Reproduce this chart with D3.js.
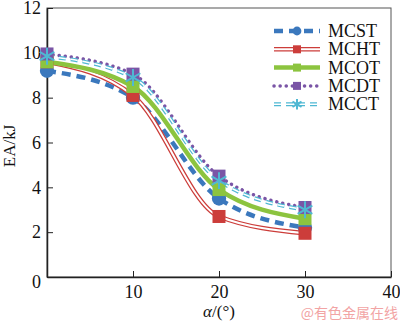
<!DOCTYPE html>
<html>
<head>
<meta charset="utf-8">
<title>EA vs alpha</title>
<style>
  body { margin: 0; background: #fff; }
  text { font-family: "Liberation Serif", "DejaVu Serif", serif; }
</style>
</head>
<body>
<script src="https://d3js.org/d3.v7.min.js"></script>
<script>

var width = 400,
    height = 323,
    margin = {top: 8, right: 9, bottom: 46, left: 47};

var angles = [0, 10, 20, 30];
var names = ['MCST', 'MCHT', 'MCOT', 'MCDT', 'MCCT'];
var mcst = [9.2, 8.0, 3.5, 2.2];
var mcht = [9.6, 8.1, 2.7, 1.95];
var mcot = [9.6, 8.5, 3.9, 2.6];
var mcdt = [9.95, 9.05, 4.5, 3.1];
var mcct = [9.85, 8.9, 4.3, 3.0];
var xTicks = [10, 20, 30, 40];
var yTicks = [0, 2, 4, 6, 8, 10, 12];

var series = [
    {name: names[0], values: mcst, color: '#3b78bd', dash: '9,6', w: 4.5, marker: 'circle'},
    {name: names[1], values: mcht, color: '#cc3d3a', dash: null, w: 4.5, inner: true, marker: 'square'},
    {name: names[2], values: mcot, color: '#8cc43f', dash: null, w: 4.5, marker: 'square'},
    {name: names[3], values: mcdt, color: '#7a55a6', dash: '0.1,6', w: 3.5, cap: 'round', marker: 'square'},
    {name: names[4], values: mcct, color: '#4fb8d3', dash: '7,5', w: 4, inner: true, marker: 'star'}
];

var svg = d3.select('body').append('svg')
    .attr('width', width)
    .attr('height', height);

var x = d3.scaleLinear().domain([0, 40]).range([margin.left, width - margin.right]);
var y = d3.scaleLinear().domain([0, 12]).range([height - margin.bottom, margin.top]);

// frame (top/right)
svg.append('rect')
    .attr('x', x(0)).attr('y', y(12))
    .attr('width', x(40) - x(0)).attr('height', y(0) - y(12))
    .attr('fill', 'none').attr('stroke', '#555').attr('stroke-width', 1);

var xAxis = svg.append('g')
    .attr('transform', 'translate(0,' + y(0) + ')')
    .call(d3.axisBottom(x).tickValues(xTicks).tickSizeInner(-6).tickSizeOuter(0).tickPadding(8));
var yAxis = svg.append('g')
    .attr('transform', 'translate(' + x(0) + ',0)')
    .call(d3.axisLeft(y).tickValues(yTicks).tickSizeInner(-6).tickSizeOuter(0).tickPadding(6));

[xAxis, yAxis].forEach(function (g) {
    g.select('.domain').attr('stroke', '#222').attr('stroke-width', 1.5);
    g.selectAll('.tick line').attr('stroke', '#222');
    g.selectAll('.tick text').attr('font-size', 18).attr('fill', '#111')
        .style('font-family', '"Liberation Serif", serif');
});
// 0 at the corner sits a bit lower
yAxis.selectAll('.tick text').filter(function (d) { return d === 0; }).attr('dy', '0.6em');

// axis titles
svg.append('text')
    .attr('transform', 'translate(15,146) rotate(-90)')
    .attr('text-anchor', 'middle')
    .attr('font-size', 17)
    .attr('fill', '#111')
    .text('EA/kJ');

var xl = svg.append('text')
    .attr('x', x(20)).attr('y', 317)
    .attr('text-anchor', 'middle')
    .attr('font-size', 17)
    .attr('fill', '#111');
xl.append('tspan').attr('font-style', 'italic').text('α');
xl.append('tspan').text('/(°)');

var line = d3.line()
    .x(function (d, i) { return x(angles[i]); })
    .y(function (d) { return y(d); })
    .curve(d3.curveMonotoneX);

var plot = svg.append('g');

function drawMarker(g, s, cx, cy, size) {
    if (s.marker === 'circle') {
        g.append('circle').attr('cx', cx).attr('cy', cy).attr('r', size * 0.55)
            .attr('fill', s.color);
    } else if (s.marker === 'square') {
        g.append('rect').attr('x', cx - size / 2).attr('y', cy - size / 2)
            .attr('width', size).attr('height', size).attr('fill', s.color);
    } else {
        g.append('path')
            .attr('d', d3.symbol().type(d3.symbolAsterisk).size(size * size * 1.2)())
            .attr('transform', 'translate(' + cx + ',' + cy + ')')
            .attr('fill', 'none').attr('stroke', s.color).attr('stroke-width', 2);
    }
}

series.forEach(function (s) {
    plot.append('path')
        .datum(s.values)
        .attr('d', line)
        .attr('fill', 'none')
        .attr('stroke', s.color)
        .attr('stroke-width', s.w)
        .attr('stroke-linecap', s.cap || 'butt')
        .attr('stroke-dasharray', s.dash);
    if (s.inner) {
        plot.append('path')
            .datum(s.values)
            .attr('d', line)
            .attr('fill', 'none')
            .attr('stroke', '#fff')
            .attr('stroke-width', s.w - 2.5)
            .attr('stroke-dasharray', s.dash);
    }
});

series.forEach(function (s) {
    s.values.forEach(function (v, i) {
        drawMarker(plot, s, x(angles[i]), y(v), 13);
    });
});

// legend
var legend = svg.append('g');
series.forEach(function (s, i) {
    var ly = 31 + i * 18.3;
    var row = legend.append('g');
    row.append('line')
        .attr('x1', 274).attr('x2', 320).attr('y1', ly).attr('y2', ly)
        .attr('stroke', s.color).attr('stroke-width', s.w)
        .attr('stroke-linecap', s.cap || 'butt')
        .attr('stroke-dasharray', s.dash);
    if (s.inner) {
        row.append('line')
            .attr('x1', 274).attr('x2', 320).attr('y1', ly).attr('y2', ly)
            .attr('stroke', '#fff').attr('stroke-width', s.w - 2.5)
            .attr('stroke-dasharray', s.dash);
    }
    drawMarker(row, s, 297, ly, 8);
    row.append('text')
        .attr('x', 328).attr('y', ly + 6)
        .attr('font-size', 18)
        .attr('fill', '#111')
        .text(s.name);
});

// watermark
svg.append('text')
    .attr('x', 398).attr('y', 318)
    .attr('text-anchor', 'end')
    .attr('font-size', 14)
    .attr('fill', '#f2a4a4')
    .style('font-family', '"Noto Sans CJK SC", sans-serif')
    .text('@有色金属在线');

</script>
</body>
</html>
